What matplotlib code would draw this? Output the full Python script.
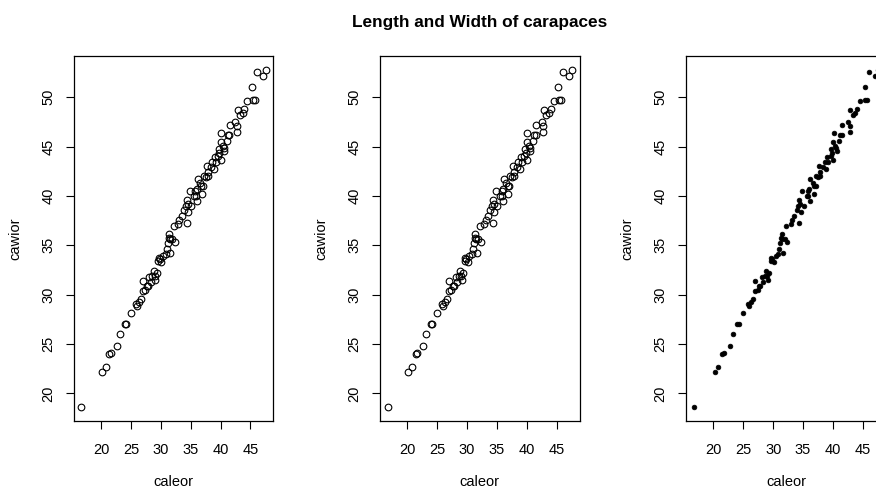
import matplotlib
matplotlib.use('Agg')
from matplotlib import pyplot as plt

# carapace length (caleor) and width (cawior) of the orange crabs
caleor = [16.7, 20.2, 20.8, 21.4, 21.7, 22.7, 23.2, 24.0, 24.2, 25.0,
          25.8, 26.0, 26.6, 27.0, 27.4, 27.0, 27.8, 28.8, 29.0, 29.3,
          29.1, 28.6, 29.6, 29.8, 30.1, 29.7, 30.8, 31.0, 31.2, 31.5,
          31.4, 31.6, 32.3, 32.2, 33.1, 34.4, 33.9, 34.4, 34.5, 34.6,
          34.9, 35.1, 35.8, 35.9, 36.1, 36.2, 36.6, 36.9, 36.8, 37.2,
          37.7, 37.9, 38.9, 39.2, 39.6, 39.7, 40.0, 40.0, 40.4, 40.6,
          40.1, 41.2, 41.5, 41.6, 42.5, 42.8, 42.8, 42.9, 43.3, 43.7,
          44.5, 45.4, 45.7, 45.3, 46.1, 47.1, 47.6,
          28.1, 27.7, 31.3, 31.9, 37.1, 37.9, 37.5, 39.8, 40.5, 38.4,
          35.6, 33.5, 36.0, 39.0, 30.4, 32.9, 34.2, 41.0, 44.0, 26.3,
          28.3, 38.6]
cawior = [18.6, 22.2, 22.7, 24.0, 24.1, 24.8, 26.0, 27.0, 27.0, 28.1,
          29.1, 28.8, 29.6, 30.4, 30.5, 31.4, 30.9, 32.4, 31.9, 32.2,
          31.5, 31.9, 33.4, 33.6, 33.3, 33.7, 34.1, 34.6, 35.2, 35.6,
          36.1, 34.2, 35.3, 37.0, 37.6, 37.3, 38.6, 39.6, 39.2, 38.4,
          40.5, 39.0, 40.5, 40.0, 39.5, 41.7, 41.3, 40.2, 41.0, 42.0,
          43.0, 42.0, 42.7, 43.4, 44.0, 44.7, 43.6, 45.5, 45.1, 44.5,
          46.4, 46.2, 46.2, 47.2, 47.5, 47.1, 46.5, 48.7, 48.2, 48.4,
          49.6, 49.7, 49.7, 51.0, 52.5, 52.1, 52.8,
          31.8, 30.9, 35.7, 35.6, 41.0, 42.4, 41.9, 44.3, 44.9, 42.9,
          40.0, 38.0, 40.7, 43.9, 33.9, 37.2, 39.0, 45.6, 48.8, 29.3,
          31.3, 43.4]

x_ticks = [20, 25, 30, 35, 40, 45]
y_ticks = [20, 25, 30, 35, 40, 45, 50]

plt.rcParams['font.family'] = ['Liberation Sans', 'DejaVu Sans']

W, H = 876, 488
fig = plt.figure(figsize=(W / 100, H / 100), dpi=100)


def padded(v):
    lo, hi = min(v), max(v)
    r = hi - lo
    return lo - 0.04 * r, hi + 0.04 * r


styles = [dict(marker='o', mfc='none', mec='black', ms=4.8, mew=0.8),
          dict(marker='o', mfc='none', mec='black', ms=4.8, mew=0.8),
          dict(marker='o', mfc='black', mec='black', ms=3.4, mew=0.5)]

for i, st in enumerate(styles):
    left = 74 + 306.2 * i
    ax = fig.add_axes([left / W, (H - 420.7) / H, 199.3 / W, 364.7 / H])
    ax.plot(caleor, cawior, linestyle='none', **st)
    ax.set_xlim(*padded(caleor))
    ax.set_ylim(*padded(cawior))
    ax.set_xticks(x_ticks)
    ax.set_yticks(y_ticks)
    for s in ax.spines.values():
        s.set_linewidth(0.9)
        s.set_color('black')
    ax.tick_params(axis='both', length=5.8, width=0.8, labelsize=10.5, colors='black')
    ax.tick_params(axis='x', pad=10)
    ax.tick_params(axis='y', pad=7.7)
    for lab in ax.get_yticklabels():
        lab.set_rotation(90)
        lab.set_va('center')
    ax.set_xlabel('caleor', fontsize=10.5)
    ax.set_ylabel('cawior', fontsize=10.5)
    ax.xaxis.set_label_coords(0.5, (420.7 - 481.5) / 364.7)
    ax.xaxis.label.set_va('center')
    ax.yaxis.set_label_coords((15 - 74) / 199.3, 0.5)
    ax.yaxis.label.set_va('center')

fig.text(480 / W, 1 - 27.3 / H, 'Length and Width of carapaces',
         ha='center', va='baseline', fontsize=12.4, fontweight='bold')

fig.savefig('out.png', dpi=100)
